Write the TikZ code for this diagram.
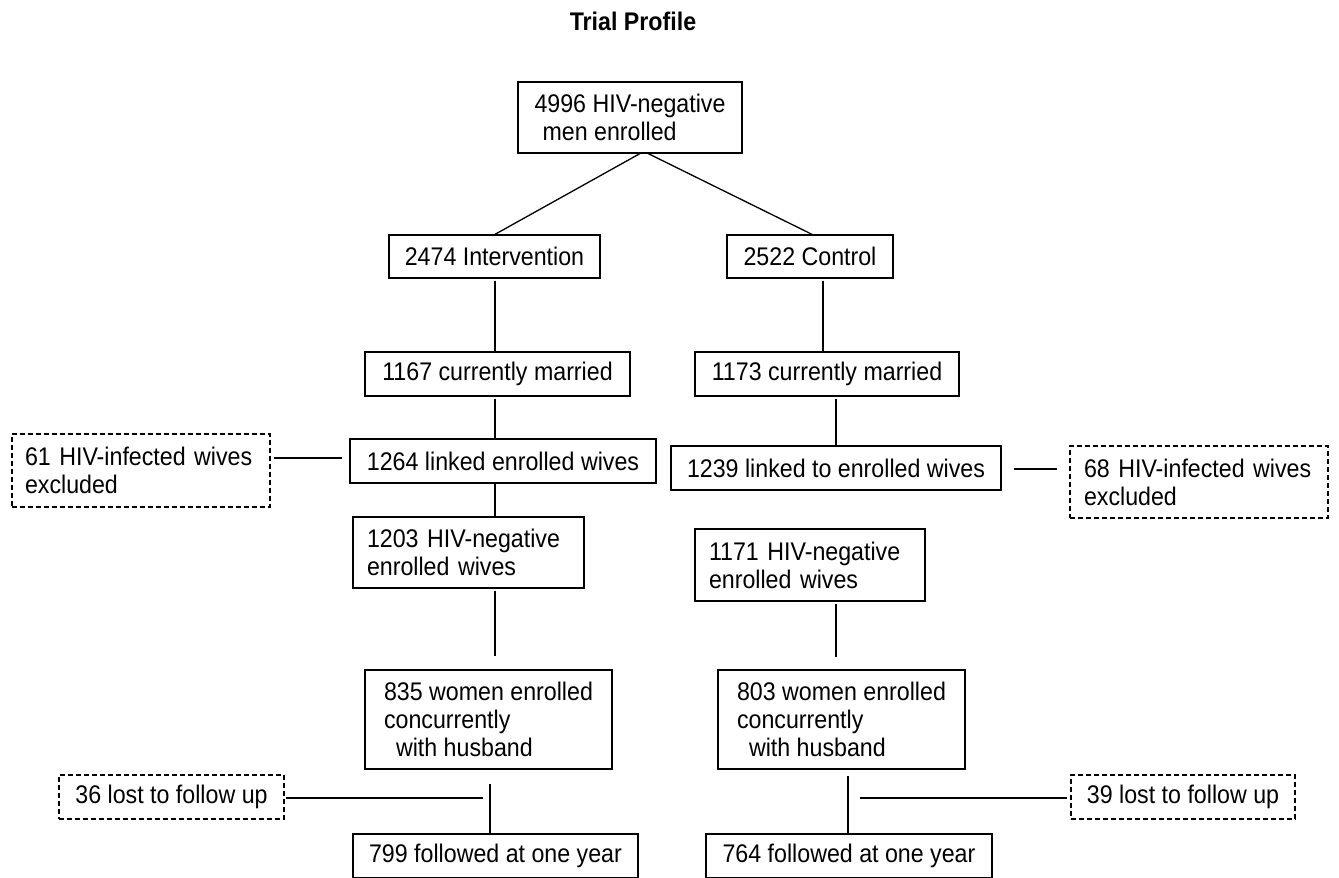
\documentclass[tikz,border=0pt]{standalone}
\usepackage{fontspec}
\setmainfont{Liberation Sans}[FakeStretch=0.91]
\begin{document}
\begin{tikzpicture}[x=1pt,y=-1pt,
  every node/.style={font=\fontsize{25.5}{28}\selectfont, inner sep=0pt, align=left},
  box/.style={draw, line width=1.3pt},
  dbox/.style={draw, line width=1.2pt, dash pattern=on 5pt off 3pt},
  conn/.style={line width=1.3pt}]
\useasboundingbox (0,0) rectangle (1339,878);
\node[font=\fontsize{25.5}{28}\selectfont\bfseries] (title) at (633,21) {Trial Profile};

\node[box, minimum width=224, minimum height=71] (top) at (630,117.5) {4996 HIV-negative\\\hspace*{8pt}men enrolled};
\node[box, minimum width=211, minimum height=43] (int) at (494.5,256.5) {2474 Intervention};
\node[box, minimum width=166, minimum height=43] (ctl) at (810,256.5) {2522 Control};
\node[box, minimum width=265, minimum height=44] (im) at (497.5,374) {1167 currently married};
\node[box, minimum width=264, minimum height=44] (cm) at (827,374) {1173 currently married};
\node[box, minimum width=306, minimum height=44] (il) at (503,461) {1264 linked enrolled wives};
\node[dbox, minimum width=258, minimum height=73, text width=232] (x61) at (141,470.5) {61 HIV-infected wives\\excluded};
\node[box, minimum width=330, minimum height=44] (cl) at (836,468) {1239 linked to enrolled wives};
\node[dbox, minimum width=258, minimum height=72, text width=230] (x68) at (1199,482) {68 HIV-infected wives\\excluded};
\node[box, minimum width=231, minimum height=71, text width=203] (ineg) at (468.5,552.5) {1203 HIV-negative\\enrolled wives};
\node[box, minimum width=230, minimum height=72, text width=202] (cneg) at (810,565) {1171 HIV-negative\\enrolled wives};
\node[box, minimum width=247, minimum height=99] (i835) at (488.5,719.5) {835 women enrolled\\concurrently\\\hspace*{12pt}with husband};
\node[box, minimum width=247, minimum height=99] (c803) at (841.5,719.5) {803 women enrolled\\concurrently\\\hspace*{12pt}with husband};
\node[dbox, minimum width=225, minimum height=44] (x36) at (171.5,797) {36 lost to follow up};
\node[dbox, minimum width=224, minimum height=44] (x39) at (1183,797) {39 lost to follow up};
\node[box, minimum width=285, minimum height=44] (i799) at (495.5,856) {799 followed at one year};
\node[box, minimum width=286, minimum height=44] (c764) at (849,856) {764 followed at one year};

\coordinate (apexL) at (641,153);
\coordinate (apexR) at (647,153);
\coordinate (j36) at (483,798);
\coordinate (j39) at (860,798);

\draw[conn] (apexL) -- (int.north -| 495,0);
\draw[conn] (apexR) -- (ctl.north -| 812,0);
\draw[conn] ([yshift=-2]int.south -| 495,0) -- (im.north -| 495,0);
\draw[conn] ([yshift=-2]ctl.south -| 823,0) -- (cm.north -| 823,0);
\draw[conn] ([yshift=-2]im.south -| 495,0) -- (il.north -| 495,0);
\draw[conn] (il.south -| 495,0) -- (ineg.north -| 495,0);
\draw[conn] ([yshift=-2]cm.south -| 836,0) -- (cl.north -| 836,0);
\draw[conn] ([xshift=3]x61.east |- 0,458) -- ([xshift=-7]il.west |- 0,458);
\draw[conn] ([xshift=12]cl.east |- 0,469) -- ([xshift=-12]x68.west |- 0,469);
\draw[conn] ([yshift=-2]ineg.south -| 495,0) -- ([yshift=13]i835.north -| 495,0);
\draw[conn] ([yshift=-2]cneg.south -| 836,0) -- ([yshift=12]c803.north -| 836,0);
\draw[conn] ([yshift=-14]i835.south -| 490,0) -- (i799.north -| 490,0);
\draw[conn] ([xshift=1]x36.east |- j36) -- (j36);
\draw[conn] ([yshift=-6]c803.south -| 848,0) -- (c764.north -| 848,0);
\draw[conn] (j39) -- ([xshift=-3]x39.west |- j39);
\end{tikzpicture}
\end{document}
